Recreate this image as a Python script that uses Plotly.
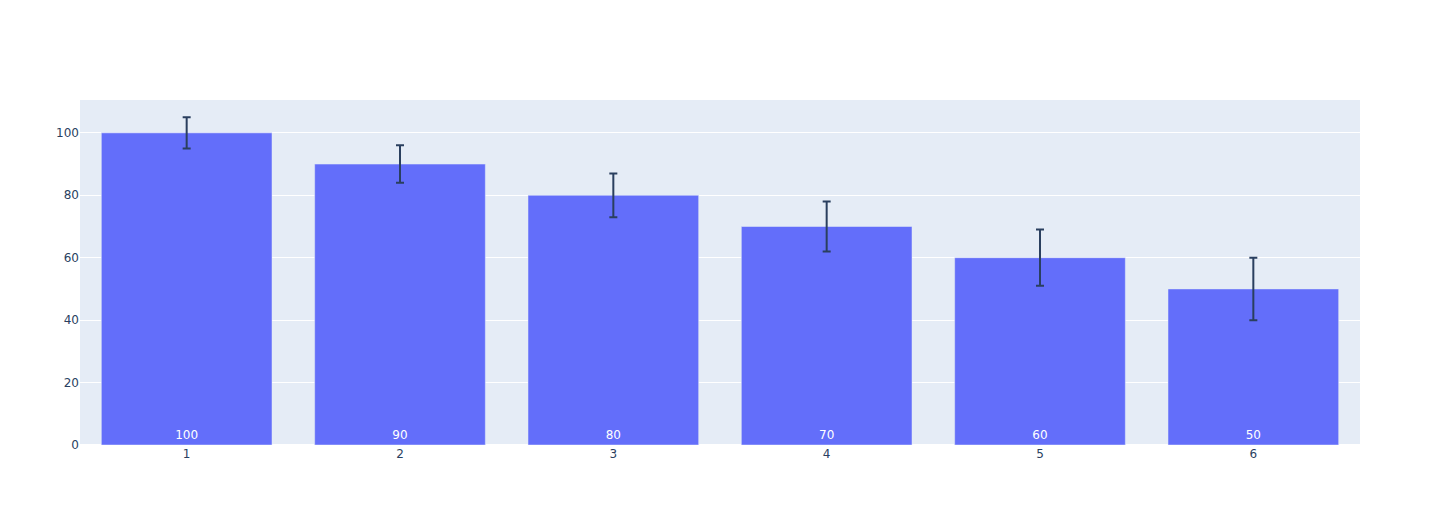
import plotly.graph_objects as go

categories = [1, 2, 3, 4, 5, 6]
values = [100, 90, 80, 70, 60, 50]
errors = [5, 6, 7, 8, 9, 10]

fig = go.Figure(go.Bar(
    x=categories,
    y=values,
    error_y=dict(type="data", array=errors, visible=True),
    text=values,
    textposition="inside",
    insidetextanchor="start",
))
fig.update_layout(
    font=dict(family="Verdana, DejaVu Sans, sans-serif"),
    width=1424, height=509,
    margin=dict(l=72, r=72, t=92, b=72),
)
fig.write_html("out.html")
